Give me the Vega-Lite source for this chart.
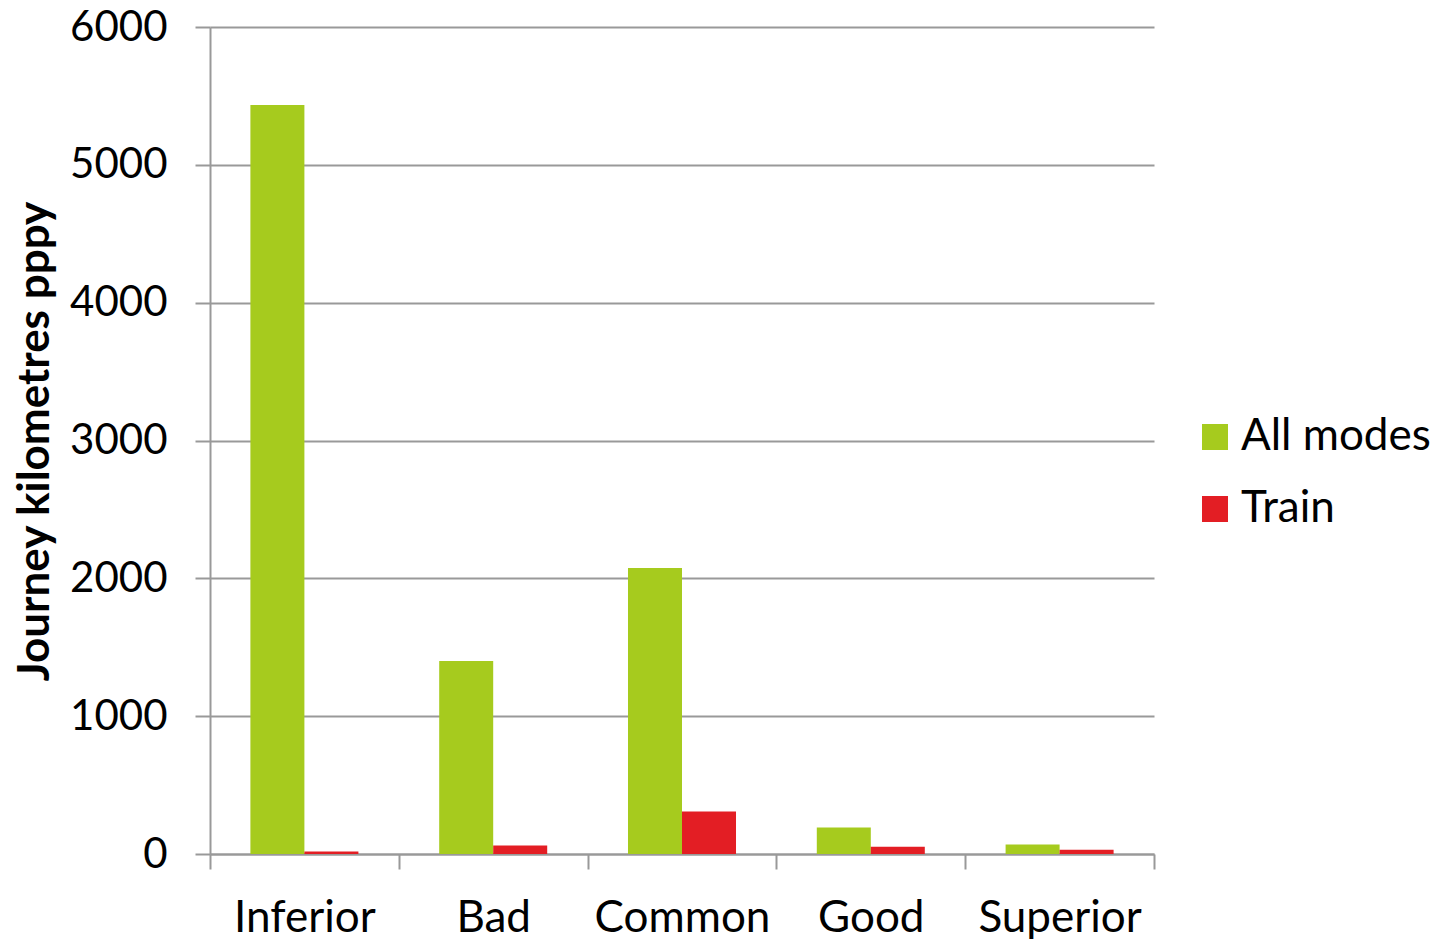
{
  "$schema": "https://vega.github.io/schema/vega-lite/v6.json",
  "width": 944,
  "height": 827,
  "autosize": {"type": "none"},
  "padding": {"left": 210, "top": 27, "right": 299, "bottom": 85},
  "background": "white",
  "config": {
    "font": "Lato",
    "view": {"stroke": null},
    "axis": {"labelFont": "Lato", "titleFont": "Lato"}
  },
  "data": {
    "values": [
      {"category": "Inferior", "mode": "All modes", "value": 5434},
      {"category": "Inferior", "mode": "Train", "value": 18},
      {"category": "Bad", "mode": "All modes", "value": 1400},
      {"category": "Bad", "mode": "Train", "value": 62},
      {"category": "Common", "mode": "All modes", "value": 2075},
      {"category": "Common", "mode": "Train", "value": 308},
      {"category": "Good", "mode": "All modes", "value": 192},
      {"category": "Good", "mode": "Train", "value": 52},
      {"category": "Superior", "mode": "All modes", "value": 69},
      {"category": "Superior", "mode": "Train", "value": 30}
    ]
  },
  "mark": {"type": "bar"},
  "encoding": {
    "x": {
      "field": "category",
      "type": "nominal",
      "sort": ["Inferior", "Bad", "Common", "Good", "Superior"],
      "scale": {"paddingInner": 0, "paddingOuter": 0},
      "axis": {
        "title": null,
        "labelAngle": 0,
        "labelFontSize": 44,
        "labelColor": "black",
        "labelPadding": 27,
        "labelBaseline": "top",
        "tickBand": "extent",
        "tickSize": 15,
        "tickColor": "#999999",
        "tickWidth": 2,
        "domainColor": "#999999",
        "domainWidth": 2
      }
    },
    "xOffset": {"field": "mode", "type": "nominal", "scale": {"paddingInner": 0, "paddingOuter": 0.748}},
    "y": {
      "field": "value",
      "type": "quantitative",
      "scale": {"domain": [0, 6000]},
      "axis": {
        "title": "Journey kilometres pppy",
        "titleFontSize": 44,
        "titleFontWeight": "bold",
        "titleColor": "black",
        "titleAngle": -90,
        "titleX": -175,
        "titleY": 414,
        "titleAlign": "center",
        "titleBaseline": "middle",
        "values": [0, 1000, 2000, 3000, 4000, 5000, 6000],
        "format": "d",
        "labelFontSize": 42,
        "labelColor": "black",
        "labelPadding": 28,
        "tickSize": 15,
        "tickColor": "#999999",
        "tickWidth": 2,
        "domainColor": "#999999",
        "domainWidth": 2,
        "grid": true,
        "gridColor": "#999999",
        "gridWidth": 2
      }
    },
    "color": {
      "field": "mode",
      "type": "nominal",
      "scale": {"domain": ["All modes", "Train"], "range": ["#A6CB1E", "#E31E24"]},
      "legend": {
        "title": null,
        "orient": "none",
        "legendX": 983,
        "legendY": 388,
        "symbolType": "square",
        "symbolSize": 676,
        "symbolStrokeWidth": 0,
        "symbolOpacity": 1,
        "labelFontSize": 44,
        "labelColor": "black",
        "labelOffset": 4,
        "labelLimit": 400,
        "rowPadding": 28
      }
    }
  }
}
